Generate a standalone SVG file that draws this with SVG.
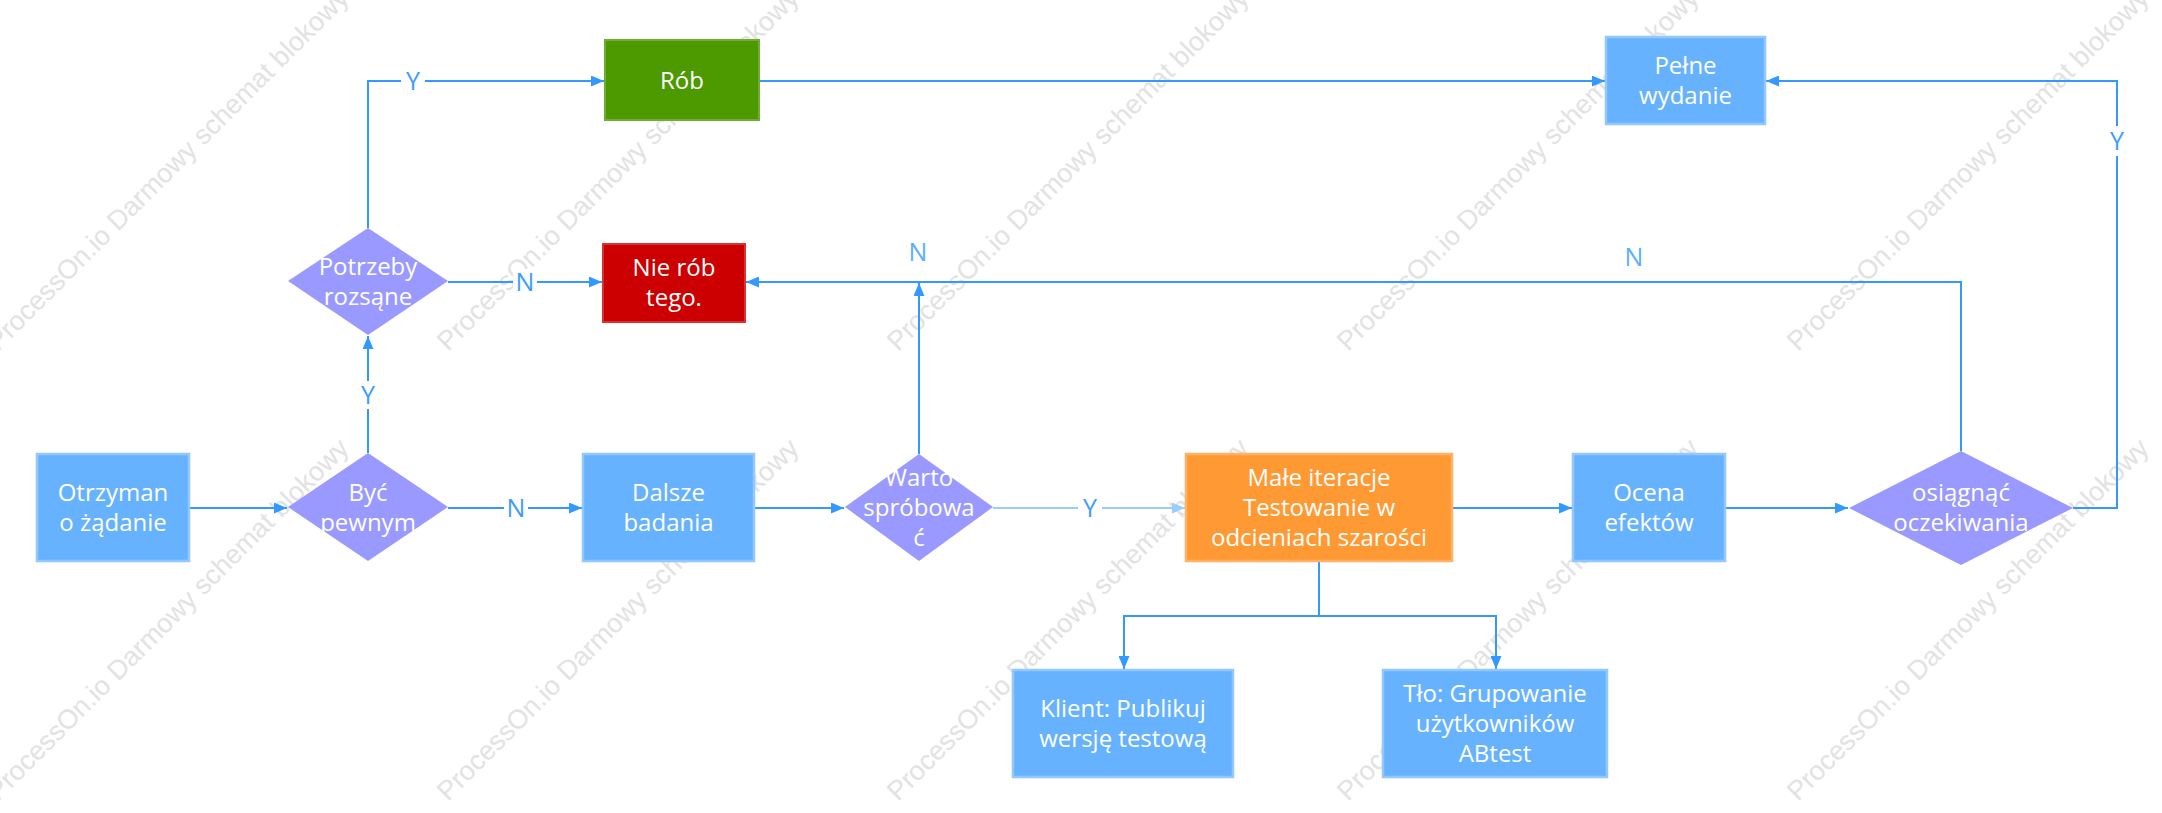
<svg xmlns="http://www.w3.org/2000/svg" width="2162" height="813" viewBox="0 0 2162 813">
<defs>
<style>
.wm{font-family:"Liberation Sans",Arial,sans-serif;font-size:27px;fill:#e2e2e2}
.t{font-family:"Open Sans","Noto Sans",sans-serif;font-size:24px;fill:#ffffff;text-anchor:middle}
.lb{font-family:"Open Sans","Noto Sans",sans-serif;font-size:25px;fill:#3d9cff;text-anchor:middle}
.lbf{font-family:"Open Sans","Noto Sans",sans-serif;font-size:25px;fill:#5caeff;text-anchor:middle}
.blue{fill:#66b2ff;stroke:#93c8ff;stroke-width:2.5}
.dia{fill:#9999ff}
.ln{fill:none;stroke:#3399ff;stroke-width:2}
.lnl{fill:none;stroke:#99ccff;stroke-width:2}
</style>
<marker id="ah" markerUnits="userSpaceOnUse" markerWidth="14" markerHeight="11" refX="13" refY="5.5" orient="auto">
<path d="M0,0 L13,5.5 L0,11 z" fill="#3399ff"/>
</marker>
<marker id="ahl" markerUnits="userSpaceOnUse" markerWidth="14" markerHeight="11" refX="13" refY="5.5" orient="auto">
<path d="M0,0 L13,5.5 L0,11 z" fill="#99ccff"/>
</marker>
</defs>
<rect width="2162" height="813" fill="#ffffff"/>
<g id="watermark">
<text class="wm" transform="translate(-2,352) rotate(-45)">ProcessOn.io Darmowy schemat blokowy</text>
<text class="wm" transform="translate(448,352) rotate(-45)">ProcessOn.io Darmowy schemat blokowy</text>
<text class="wm" transform="translate(898,352) rotate(-45)">ProcessOn.io Darmowy schemat blokowy</text>
<text class="wm" transform="translate(1348,352) rotate(-45)">ProcessOn.io Darmowy schemat blokowy</text>
<text class="wm" transform="translate(1798,352) rotate(-45)">ProcessOn.io Darmowy schemat blokowy</text>
<text class="wm" transform="translate(-2,802) rotate(-45)">ProcessOn.io Darmowy schemat blokowy</text>
<text class="wm" transform="translate(448,802) rotate(-45)">ProcessOn.io Darmowy schemat blokowy</text>
<text class="wm" transform="translate(898,802) rotate(-45)">ProcessOn.io Darmowy schemat blokowy</text>
<text class="wm" transform="translate(1348,802) rotate(-45)">ProcessOn.io Darmowy schemat blokowy</text>
<text class="wm" transform="translate(1798,802) rotate(-45)">ProcessOn.io Darmowy schemat blokowy</text>
</g>
<g id="connectors">
<path class="ln" d="M189,508 H287" marker-end="url(#ah)"/>
<path class="ln" d="M368,453 V336" marker-end="url(#ah)"/>
<path class="ln" d="M368,228 V81 H604" marker-end="url(#ah)"/>
<path class="ln" d="M448,282 H602" marker-end="url(#ah)"/>
<path class="ln" d="M448,508 H582" marker-end="url(#ah)"/>
<path class="ln" d="M754,508 H844" marker-end="url(#ah)"/>
<path class="lnl" d="M993,508 H1185" marker-end="url(#ahl)"/>
<path class="ln" d="M919,454 V283" marker-end="url(#ah)"/>
<path class="ln" d="M1452,508 H1572" marker-end="url(#ah)"/>
<path class="ln" d="M1725,508 H1848" marker-end="url(#ah)"/>
<path class="ln" d="M1961,451 V282 H746" marker-end="url(#ah)"/>
<path class="ln" d="M2073,508 H2117 V81 H1766" marker-end="url(#ah)"/>
<path class="ln" d="M759,81 H1605" marker-end="url(#ah)"/>
<path class="ln" d="M1319,562 V616 H1124 V669" marker-end="url(#ah)"/>
<path class="ln" d="M1319,616 H1496 V669" marker-end="url(#ah)"/>
<rect x="401" y="68" width="24" height="26" fill="#ffffff"/>
<text class="lb" x="413" y="90">Y</text>
<rect x="356" y="381" width="24" height="28" fill="#ffffff"/>
<text class="lb" x="368" y="404">Y</text>
<rect x="513" y="269" width="24" height="26" fill="#ffffff"/>
<text class="lb" x="525" y="291">N</text>
<rect x="504" y="495" width="24" height="26" fill="#ffffff"/>
<text class="lb" x="516" y="517">N</text>
<rect x="1078" y="495" width="24" height="26" fill="#ffffff"/>
<text class="lb" x="1090" y="517">Y</text>
<rect x="2105" y="126" width="24" height="30" fill="#ffffff"/>
<text class="lb" x="2117" y="150">Y</text>
<text class="lbf" x="918" y="261">N</text>
<text class="lbf" x="1634" y="266">N</text>
</g>
<g id="otrzyman">
<rect class="blue" x="37" y="454" width="152" height="107"/>
<text class="t" x="113" y="501">Otrzyman</text>
<text class="t" x="113" y="531">o żądanie</text>
</g>
<g id="byc">
<polygon class="dia" points="288,507 368,453 448,507 368,561"/>
<text class="t" x="368" y="501">Być</text>
<text class="t" x="368" y="531">pewnym</text>
</g>
<g id="potrzeby">
<polygon class="dia" points="288,281 368,228 448,281 368,335"/>
<text class="t" x="368" y="275">Potrzeby</text>
<text class="t" x="368" y="305">rozsąne</text>
</g>
<g id="rob">
<rect x="605" y="40" width="154" height="80" fill="#4d9900" stroke="#6fae33" stroke-width="2"/>
<text class="t" x="682" y="89">Rób</text>
</g>
<g id="nierob">
<rect x="603" y="244" width="142" height="78" fill="#cc0000" stroke="#d83333" stroke-width="2"/>
<text class="t" x="674" y="276">Nie rób</text>
<text class="t" x="674" y="306">tego.</text>
</g>
<g id="dalsze">
<rect class="blue" x="583" y="454" width="171" height="107"/>
<text class="t" x="668.5" y="501">Dalsze</text>
<text class="t" x="668.5" y="531">badania</text>
</g>
<g id="warto">
<polygon class="dia" points="845,507 919,454 993,507 919,561"/>
<text class="t" x="919" y="486">Warto</text>
<text class="t" x="919" y="516">spróbowa</text>
<text class="t" x="919" y="546">ć</text>
</g>
<g id="male">
<rect x="1186" y="454" width="266" height="107" fill="#ff9933" stroke="#ffb266" stroke-width="2.5"/>
<text class="t" x="1319" y="486">Małe iteracje</text>
<text class="t" x="1319" y="516">Testowanie w</text>
<text class="t" x="1319" y="546">odcieniach szarości</text>
</g>
<g id="klient">
<rect class="blue" x="1013" y="670" width="220" height="107"/>
<text class="t" x="1123" y="717">Klient: Publikuj</text>
<text class="t" x="1123" y="747">wersję testową</text>
</g>
<g id="tlo">
<rect class="blue" x="1383" y="670" width="224" height="107"/>
<text class="t" x="1495" y="702">Tło: Grupowanie</text>
<text class="t" x="1495" y="732">użytkowników</text>
<text class="t" x="1495" y="762">ABtest</text>
</g>
<g id="ocena">
<rect class="blue" x="1573" y="454" width="152" height="107"/>
<text class="t" x="1649" y="501">Ocena</text>
<text class="t" x="1649" y="531">efektów</text>
</g>
<g id="osiagnac">
<polygon class="dia" points="1849,508 1961,451 2073,508 1961,565"/>
<text class="t" x="1961" y="501">osiągnąć</text>
<text class="t" x="1961" y="531">oczekiwania</text>
</g>
<g id="pelne">
<rect class="blue" x="1606" y="37" width="159" height="87"/>
<text class="t" x="1685.5" y="74">Pełne</text>
<text class="t" x="1685.5" y="104">wydanie</text>
</g>
</svg>
